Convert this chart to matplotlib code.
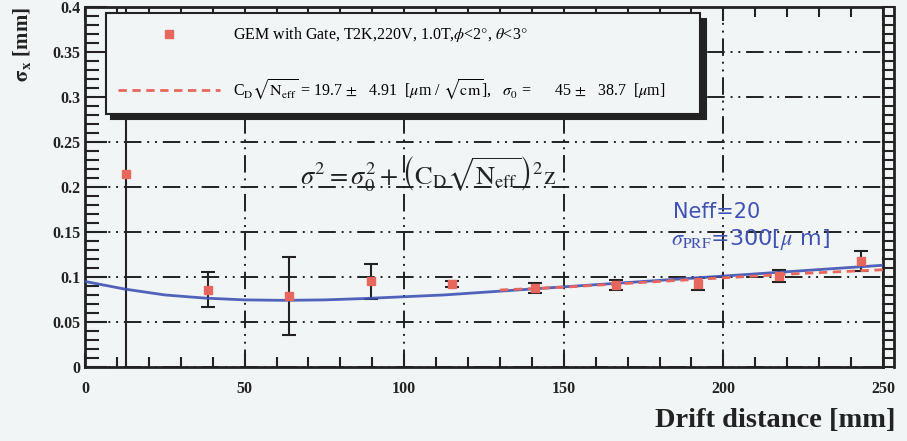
import numpy as np
import matplotlib.pyplot as plt
from matplotlib.lines import Line2D
from matplotlib.ticker import MultipleLocator

plt.rcParams['font.family'] = ['Liberation Serif', 'DejaVu Serif']
plt.rcParams['mathtext.fontset'] = 'stix'

# measured points
drift = [12.8, 38.5, 64.0, 89.5, 115.0, 141.0, 166.5, 192.0, 217.5, 243.0]
sigma = [0.214, 0.086, 0.079, 0.095, 0.092, 0.088, 0.091, 0.092, 0.101, 0.118]
sigma_err = [0.25, 0.019, 0.043, 0.019, 0.003, 0.0055, 0.006, 0.007, 0.007, 0.011]

# fit (red dashed)
fit_z = [130, 150, 175, 200, 225, 250]
fit_s = [0.0855, 0.0886, 0.094, 0.099, 0.104, 0.108]

# expectation Neff=20 (blue)
exp_z = [0, 12.5, 25, 37.5, 50, 62.5, 75, 87.5, 100, 112.5, 125, 137.5,
         150, 162.5, 175, 187.5, 200, 212.5, 225, 237.5, 250]
exp_s = [0.095, 0.0865, 0.080, 0.0765, 0.0745, 0.074, 0.0745, 0.076, 0.078,
         0.080, 0.083, 0.086, 0.089, 0.092, 0.095, 0.098, 0.101, 0.104,
         0.107, 0.110, 0.113]

bg = '#f2f5f6'
red = '#e8675c'
blue = '#3f52b4'
ink = '#222222'

fig = plt.figure(figsize=(9.07, 4.41), dpi=100, facecolor=bg)
ax = fig.add_axes([0.0937, 0.168, 0.8798, 0.816], facecolor=bg)

ax.plot(exp_z, exp_s, color=blue, lw=2, alpha=0.9, zorder=3)
ax.plot(fit_z, fit_s, color=red, lw=2, ls=(0, (3, 2)), zorder=4)
ax.errorbar(drift, sigma, yerr=sigma_err, fmt='none', ecolor=ink,
            elinewidth=1.5, capsize=5, capthick=1.5, zorder=2)
ax.plot(drift, sigma, 's', color=red, ms=6, zorder=5)

ax.set_xlim(0, 250)
ax.set_ylim(0, 0.4)
ax.xaxis.set_minor_locator(MultipleLocator(10))
ax.yaxis.set_minor_locator(MultipleLocator(0.01))
ax.set_xticks([0, 50, 100, 150, 200, 250])
ax.set_xticklabels(['0', '50', '100', '150', '200', '250'])
ax.set_yticks([0, 0.05, 0.1, 0.15, 0.2, 0.25, 0.3, 0.35, 0.4])
ax.set_yticklabels(['0', '0.05', '0.1', '0.15', '0.2', '0.25', '0.3', '0.35', '0.4'])

ax.grid(True, which='major', color=ink, lw=1.4, ls=(0, (9, 3, 1, 3, 1, 3)))
for s in ax.spines.values():
    s.set_linewidth(2)
    s.set_color(ink)

ax.tick_params(which='both', direction='in', top=True, right=False,
               color=ink, width=1.5, labelsize=11.5)
ax.tick_params(axis='y', which='major', length=16, pad=3)
ax.tick_params(axis='y', which='minor', length=10)
ax.tick_params(axis='x', which='major', length=10, pad=10)
ax.tick_params(axis='x', which='minor', length=7)
for lab in ax.get_xticklabels() + ax.get_yticklabels():
    lab.set_fontweight('bold')
    lab.set_color(ink)

# outer ladder on the right side
for yv in np.arange(0, 0.401, 0.01):
    ax.plot([1.0, 1.014], [yv / 0.4, yv / 0.4], transform=ax.transAxes,
            color=ink, lw=1.5, clip_on=False)
ax.plot([1.014, 1.014], [0, 1], transform=ax.transAxes, color=ink,
        lw=2, clip_on=False)

ax.set_xlabel('Drift distance [mm]', fontsize=20.5, fontweight='bold',
              color=ink, ha='right')
ax.xaxis.set_label_coords(1.016, -0.115)
ax.set_ylabel(r'$\mathbf{\sigma_x}$ [mm]', fontsize=15, fontweight='bold',
              color=ink, loc='top', labelpad=14)

handles = [Line2D([], [], marker='s', color=red, ls='none', ms=6),
           Line2D([], [], color=red, lw=2, ls=(0, (3, 2)))]
labels = [r'GEM with Gate, T2K,220V, 1.0T,$\phi$<2$\degree$, $\theta$<3$\degree$',
          r'C$_\mathrm{D}$$\sqrt{\mathrm{N_{eff}}}$ = 19.7 $\pm$   4.91  [$\mu$m / $\sqrt{\rm cm}$],   $\sigma_0$ =      45 $\pm$   38.7  [$\mu$m]']
leg = ax.legend(handles, labels, loc='upper left', mode='expand',
                bbox_to_anchor=(0.026, 0.0, 0.745, 0.983), borderaxespad=0,
                fontsize=11.5, handlelength=6.4, handletextpad=0.8,
                labelspacing=2.1, borderpad=0.75, fancybox=False,
                framealpha=1, facecolor=bg, edgecolor=ink,
                shadow={'color': ink, 'alpha': 1, 'ox': 4, 'oy': -4})
leg.get_frame().set_linewidth(1.5)

ax.text(0.43, 0.535,
        r'$\sigma^2 = \sigma_0^2 + \left(\mathrm{C_D}\sqrt{\mathrm{N_{eff}}}\right)^2 \mathrm{z}$',
        transform=ax.transAxes, fontsize=19, ha='center', va='center', color=ink)
ax.text(0.737, 0.43, 'Neff=20', transform=ax.transAxes, fontsize=15,
        family='DejaVu Sans', color=blue, va='center')
ax.text(0.734, 0.355, r'$\sigma_{\mathrm{PRF}}$=300[$\mu$ m]', transform=ax.transAxes,
        fontsize=16, family='DejaVu Sans', color=blue, va='center')

fig.savefig('out.png', dpi=100, facecolor=bg)
